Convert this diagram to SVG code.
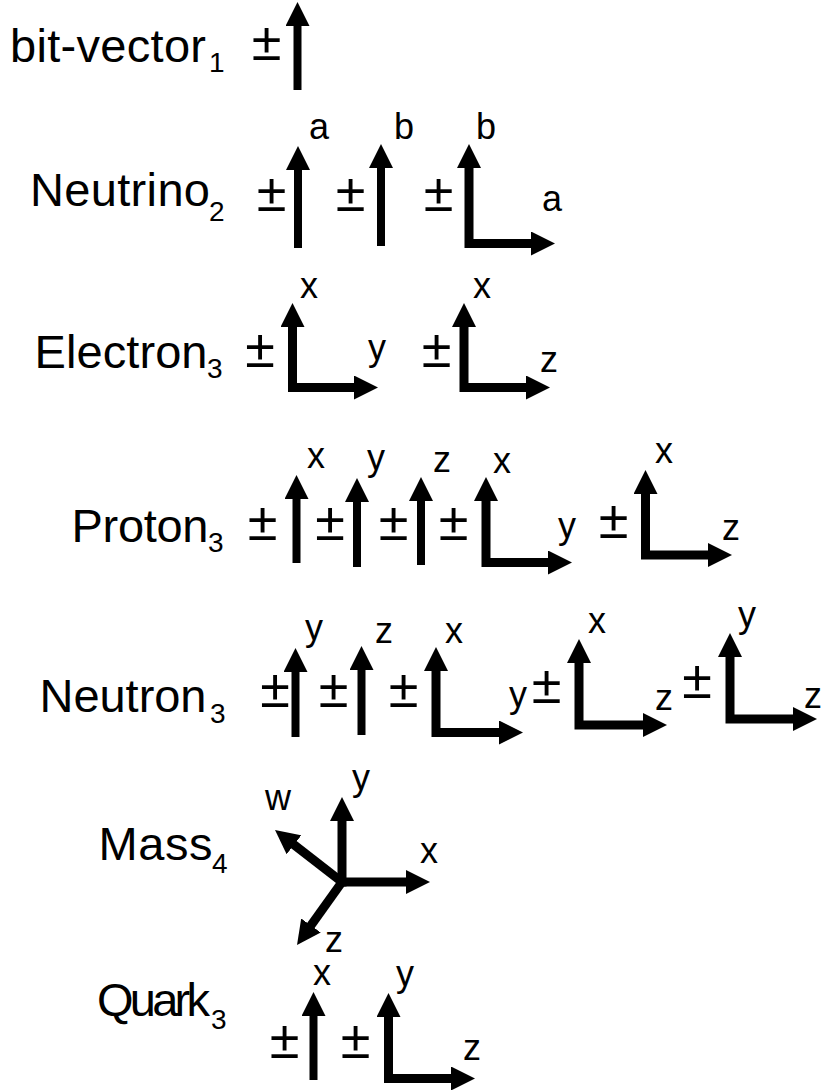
<svg xmlns="http://www.w3.org/2000/svg" width="825" height="1090" viewBox="0 0 825 1090">
<style>
.t{font-family:"Liberation Sans",Arial,sans-serif;font-size:47px;fill:#000}
.s{font-family:"Liberation Sans",Arial,sans-serif;font-size:28px;fill:#000}
.l{font-family:"Liberation Sans",Arial,sans-serif;font-size:36px;fill:#000}
.pm{font-family:"Liberation Sans",Arial,sans-serif;font-size:54px;fill:#000;text-anchor:middle}
.a{stroke:#000;stroke-width:8;fill:none;marker-end:url(#ah)}
.L{stroke:#000;stroke-width:9;fill:none;stroke-linejoin:miter;marker-start:url(#ah);marker-end:url(#ah)}
.m{stroke:#000;stroke-width:9;fill:none;marker-end:url(#ah)}
</style>
<defs>
<marker id="ah" markerUnits="userSpaceOnUse" markerWidth="24" markerHeight="24" viewBox="0 0 24 24" refX="12" refY="12" orient="auto-start-reverse"><path d="M0,0 L24,12 L0,24 z" fill="#000"/></marker>
</defs>
<rect width="825" height="1090" fill="#fff"/>

<g id="bitvector">
<text class="t" x="10" y="62" textLength="196">bit-vector</text><text class="s" x="209" y="72">1</text>
<text class="pm" x="266.5" y="60">±</text>
<line class="a" x1="297.5" y1="90" x2="297.5" y2="14"/>
</g>

<g id="neutrino">
<text class="t" x="30" y="206" textLength="180">Neutrino</text><text class="s" x="209" y="221">2</text>
<text class="pm" x="271.5" y="211">±</text>
<line class="a" x1="298" y1="248" x2="298" y2="158"/>
<text class="l" x="309" y="139">a</text>
<text class="pm" x="350.5" y="211">±</text>
<line class="a" x1="381" y1="246" x2="381" y2="156"/>
<text class="l" x="394" y="139">b</text>
<text class="pm" x="438.5" y="211">±</text>
<path class="L" d="M469,156 V243.5 H543"/>
<text class="l" x="476" y="139">b</text>
<text class="l" x="542" y="211">a</text>
</g>

<g id="electron">
<text class="t" x="34.5" y="368" textLength="173">Electron</text><text class="s" x="207" y="378">3</text>
<text class="pm" x="260" y="367">±</text>
<path class="L" d="M292.5,315 V387.5 H366"/>
<text class="l" x="300" y="298">x</text>
<text class="l" x="368" y="360">y</text>
<text class="pm" x="436.5" y="367">±</text>
<path class="L" d="M464,315 V387.5 H538"/>
<text class="l" x="473" y="298">x</text>
<text class="l" x="540" y="372">z</text>
</g>

<g id="proton">
<text class="t" x="71.5" y="542" textLength="137">Proton</text><text class="s" x="208" y="552">3</text>
<text class="pm" x="262.5" y="540">±</text>
<line class="a" x1="296.5" y1="563" x2="296.5" y2="487"/>
<text class="l" x="307" y="468">x</text>
<text class="pm" x="330" y="540">±</text>
<line class="a" x1="357" y1="567" x2="357" y2="490"/>
<text class="l" x="367" y="470">y</text>
<text class="pm" x="393.5" y="540">±</text>
<line class="a" x1="421" y1="565" x2="421" y2="489"/>
<text class="l" x="433" y="472">z</text>
<text class="pm" x="453.5" y="540">±</text>
<path class="L" d="M486,489 V562.5 H560"/>
<text class="l" x="493" y="473">x</text>
<text class="l" x="558" y="538">y</text>
<text class="pm" x="613.5" y="538">±</text>
<path class="L" d="M645.5,482 V555 H720"/>
<text class="l" x="655" y="463">x</text>
<text class="l" x="722" y="540">z</text>
</g>

<g id="neutron">
<text class="t" x="39.5" y="712" textLength="167">Neutron</text><text class="s" x="210" y="723">3</text>
<text class="pm" x="275" y="707">±</text>
<line class="a" x1="295.5" y1="737" x2="295.5" y2="660"/>
<text class="l" x="305" y="640">y</text>
<text class="pm" x="333.5" y="707">±</text>
<line class="a" x1="361.5" y1="735" x2="361.5" y2="658"/>
<text class="l" x="375" y="643">z</text>
<text class="pm" x="403.5" y="707">±</text>
<path class="L" d="M436,659 V732.5 H511"/>
<text class="l" x="445" y="643">x</text>
<text class="l" x="509" y="707">y</text>
<text class="pm" x="546.5" y="703">±</text>
<path class="L" d="M579,651 V725 H655"/>
<text class="l" x="588" y="633">x</text>
<text class="l" x="655" y="710">z</text>
<text class="pm" x="697" y="698">±</text>
<path class="L" d="M730,645 V719 H805"/>
<text class="l" x="738" y="627">y</text>
<text class="l" x="804" y="708">z</text>
</g>

<g id="mass">
<text class="t" x="98.5" y="860" textLength="114">Mass</text><text class="s" x="212" y="873">4</text>
<line class="m" x1="342" y1="886.5" x2="342" y2="809"/>
<line class="m" x1="337.5" y1="882" x2="418" y2="882"/>
<line class="m" x1="342" y1="882" x2="284.5" y2="837.4"/>
<line class="m" x1="342" y1="882" x2="304" y2="935.2"/>
<text class="l" x="352" y="790">y</text>
<text class="l" x="420" y="863">x</text>
<text class="l" x="265" y="810">w</text>
<text class="l" x="325" y="952">z</text>
</g>

<g id="quark">
<text class="t" x="97" y="1016" textLength="113">Quark</text><text class="s" x="211" y="1029">3</text>
<text class="pm" x="284.5" y="1058">±</text>
<line class="a" x1="313.5" y1="1080" x2="313.5" y2="1004"/>
<text class="l" x="313" y="985">x</text>
<text class="pm" x="355.5" y="1058">±</text>
<path class="L" d="M388.5,1005 V1078.5 H463"/>
<text class="l" x="396" y="986">y</text>
<text class="l" x="463" y="1060">z</text>
</g>
</svg>
